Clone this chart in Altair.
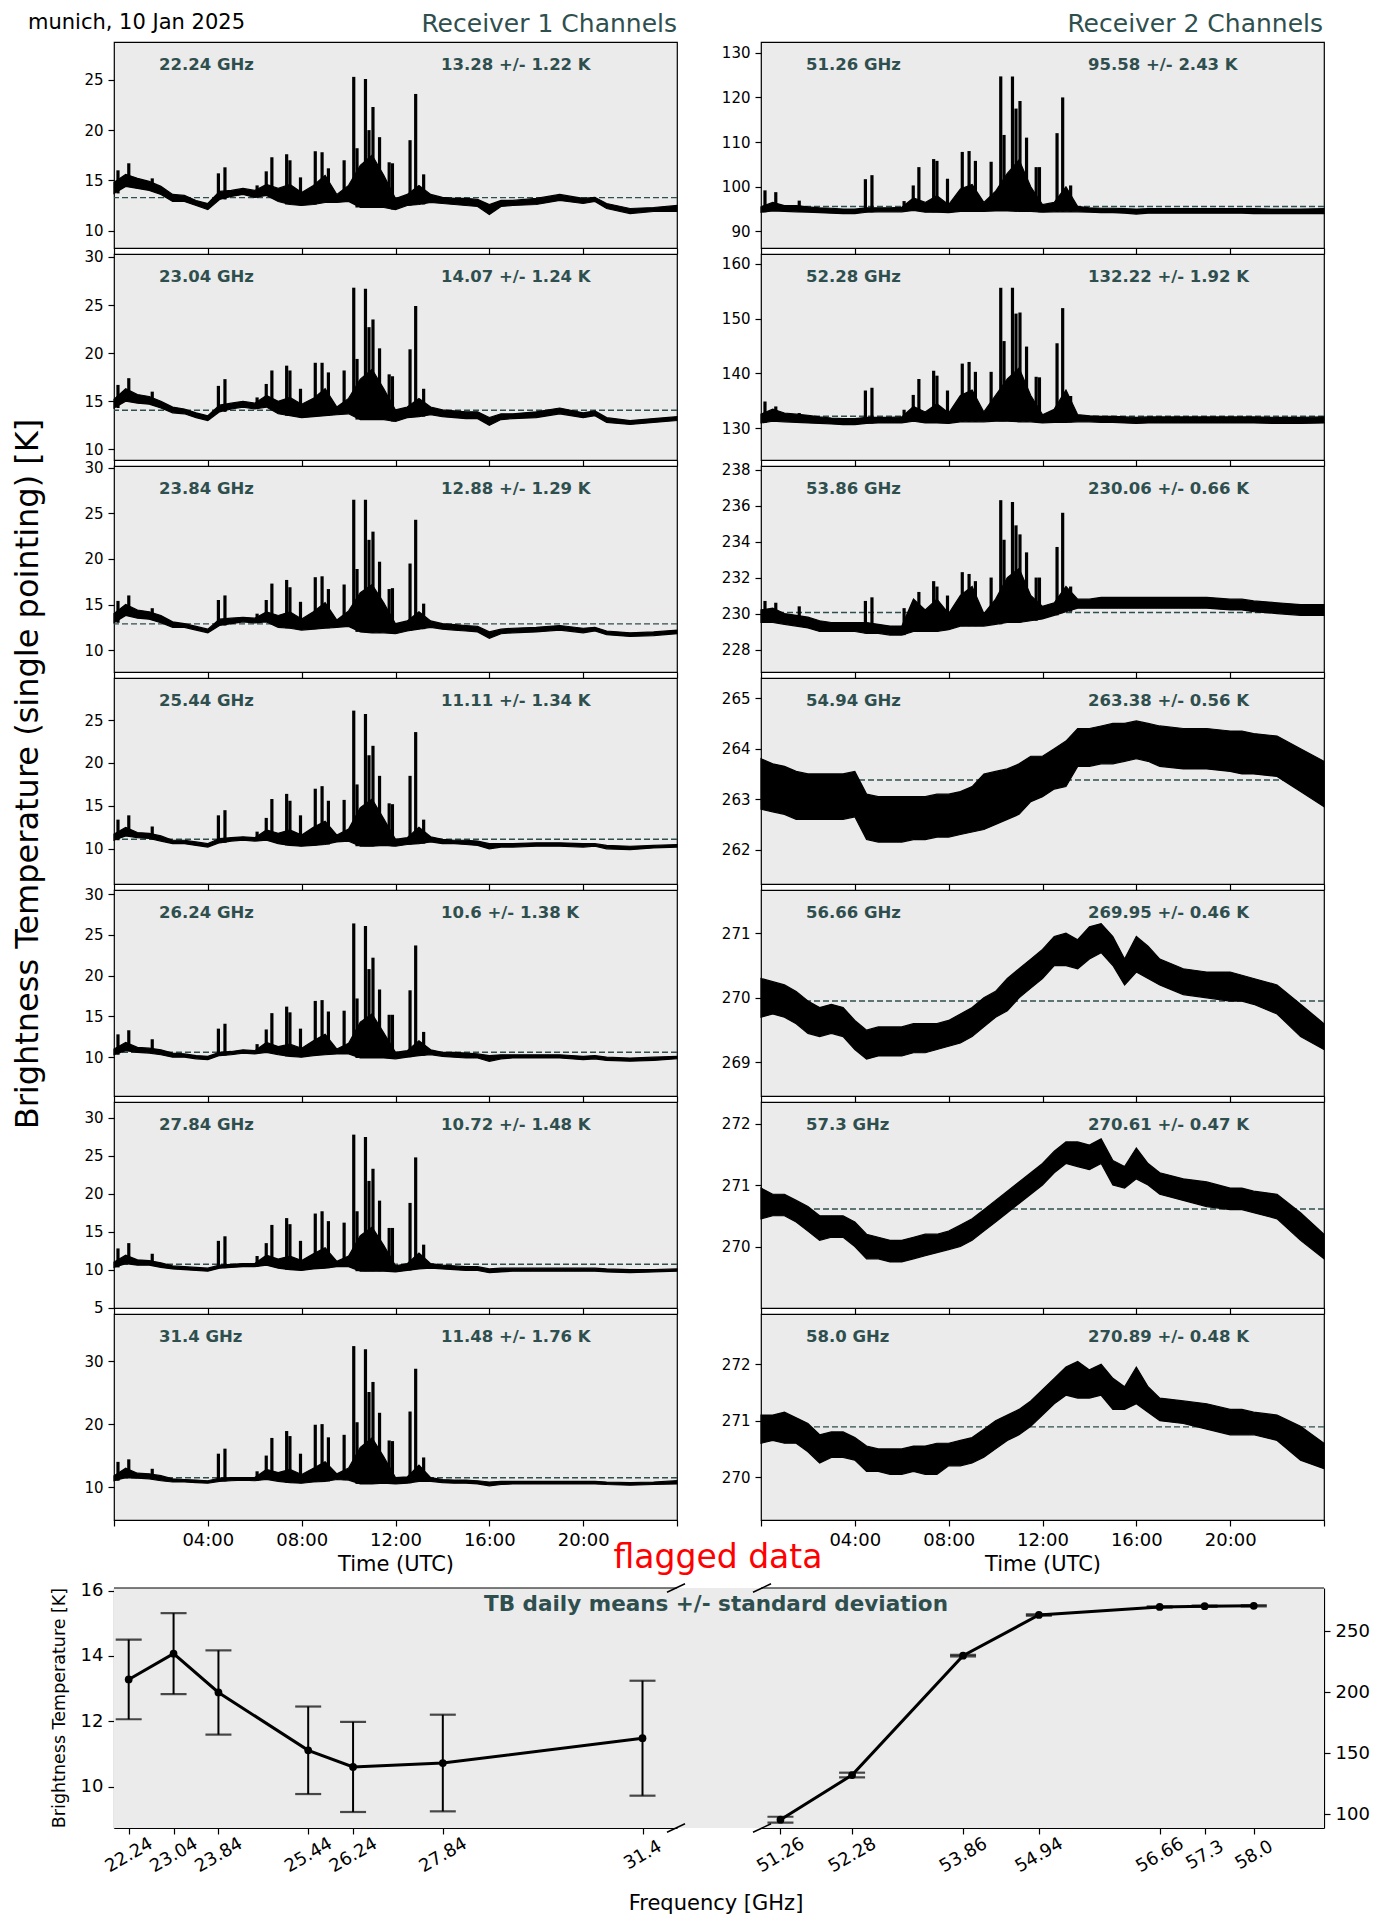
import altair as alt
import pandas as pd

FONT = "DejaVu Sans"
DSG = "#2F4F4F"
BG = "#EBEBEB"
PW, PH = 563, 206          # time-series panel size
BOFF, BH = 62, 302         # bottom row: offset of grey panel, cell height

# ---------------- time grid (hours UTC) ----------------
TIME_H = [0, 0.5, 1, 1.5, 2, 2.5, 3, 3.5, 4, 4.5,
          5, 5.5, 6, 6.5, 7, 7.5, 8, 8.5, 9, 9.5,
          10, 10.5, 11, 11.5, 12, 12.5, 13, 13.5, 14, 14.5,
          15, 15.5, 16, 16.5, 17, 18, 19, 20, 20.5, 21, 22, 23, 24]
SPIKE_H = [0.17, 0.63, 1.63, 4.45, 4.73, 6.1, 6.49, 6.73, 7.36, 7.5, 7.95, 8.58, 8.87,
           9.14, 9.81, 10.22, 10.36, 10.72, 10.87, 11.04, 11.32, 11.73, 11.87, 12.62, 12.86, 13.2]

# ---------------- receiver 1 ----------------
RX1_FREQ = ["22.24", "23.04", "23.84", "25.44", "26.24", "27.84", "31.4"]
RX1_MEAN = [13.28, 14.07, 12.88, 11.11, 10.6, 10.72, 11.48]
RX1_STD = [1.22, 1.24, 1.29, 1.34, 1.38, 1.48, 1.76]
RX1_YDOM = [[8.27, 28.77], [8.9, 30.3], [7.6, 30.2], [5.9, 29.9], [5.24, 30.5], [4.95, 32.1], [4.76, 37.5]]
RX1_YTICKS = [[10, 15, 20, 25], [10, 15, 20, 25, 30], [10, 15, 20, 25, 30], [10, 15, 20, 25],
              [10, 15, 20, 25, 30], [5, 10, 15, 20, 25, 30], [10, 20, 30]]

L1_LO = [13.7, 14.4, 14.2, 14.0, 13.6, 12.9, 12.9, 12.5, 12.1, 13.1,
         13.4, 13.6, 13.3, 13.5, 12.9, 12.6, 12.5, 12.6, 12.8, 12.8,
         12.9, 12.3, 12.3, 12.3, 12.1, 12.5, 12.6, 12.8, 12.7, 12.6,
         12.5, 12.4, 11.6, 12.4, 12.5, 12.6, 13.0, 12.7, 12.9, 12.2, 11.7, 11.9, 11.9]
L1_HI = [14.8, 15.6, 15.2, 14.9, 14.4, 13.6, 13.5, 13.0, 12.7, 13.9,
         14.0, 14.2, 14.0, 14.6, 14.2, 14.6, 13.8, 14.5, 15.5, 13.6,
         14.5, 16.5, 17.5, 15.5, 13.2, 13.6, 14.5, 13.6, 13.3, 13.2,
         13.2, 13.1, 12.6, 13.0, 13.0, 13.2, 13.6, 13.2, 13.3, 12.7, 12.2, 12.3, 12.5]
L1_SPK = [16.0, 16.7, 15.2, 15.7, 16.3, 14.5, 15.9, 17.3, 17.6, 17.0, 15.3, 17.9, 17.8,
          16.2, 17.0, 25.3, 18.2, 25.1, 20.0, 22.3, 19.3, 16.8, 16.7, 19.0, 23.6, 15.6]

L2_LO = [14.3, 15.0, 14.8, 14.7, 14.3, 13.8, 13.7, 13.3, 13.0, 13.9,
         14.2, 14.4, 14.2, 14.4, 13.7, 13.5, 13.3, 13.4, 13.5, 13.6,
         13.7, 13.1, 13.1, 13.1, 12.9, 13.3, 13.4, 13.6, 13.4, 13.3,
         13.2, 13.2, 12.5, 13.1, 13.2, 13.3, 13.7, 13.3, 13.5, 12.8, 12.6, 12.8, 13.0]
L2_HI = [15.2, 16.3, 15.7, 15.5, 15.0, 14.4, 14.2, 13.8, 13.5, 14.6,
         14.8, 15.0, 14.8, 15.6, 15.0, 15.4, 14.7, 15.3, 16.3, 14.4,
         15.3, 17.3, 18.3, 16.3, 14.1, 14.4, 15.3, 14.4, 14.1, 14.0,
         13.9, 13.9, 13.3, 13.7, 13.7, 13.9, 14.3, 13.8, 14.0, 13.3, 13.0, 13.2, 13.4]
L2_SPK = [16.7, 17.4, 16.0, 16.6, 17.3, 15.4, 16.8, 18.2, 18.7, 18.2, 16.3, 19.0, 19.0,
          18.0, 18.2, 26.8, 19.4, 26.7, 22.7, 23.5, 20.5, 17.8, 17.6, 20.4, 24.9, 16.3]

L3_LO = [13.0, 13.8, 13.5, 13.4, 13.0, 12.5, 12.5, 12.2, 11.9, 12.7,
         12.9, 13.1, 13.0, 13.1, 12.5, 12.4, 12.2, 12.3, 12.4, 12.5,
         12.6, 12.0, 11.9, 11.9, 11.8, 12.1, 12.3, 12.5, 12.3, 12.2,
         12.1, 12.0, 11.3, 11.8, 11.9, 12.0, 12.2, 11.9, 12.1, 11.7, 11.5, 11.6, 11.8]
L3_HI = [14.0, 15.0, 14.4, 14.2, 13.8, 13.1, 12.9, 12.6, 12.3, 13.4,
         13.5, 13.6, 13.5, 14.2, 13.8, 14.2, 13.4, 14.2, 15.2, 13.3,
         14.3, 16.3, 17.2, 15.2, 12.9, 13.2, 14.2, 13.2, 12.9, 12.8,
         12.7, 12.6, 12.0, 12.3, 12.4, 12.5, 12.7, 12.4, 12.5, 12.1, 11.9, 12.0, 12.2]
L3_SPK = [15.4, 16.0, 14.6, 15.5, 16.0, 14.0, 15.5, 17.3, 17.7, 16.9, 15.3, 18.0, 18.1,
          16.7, 17.2, 26.5, 18.9, 26.5, 22.1, 23.0, 19.7, 16.7, 16.8, 19.5, 24.3, 15.1]

L4_LO = [11.0, 11.5, 11.3, 11.2, 10.9, 10.6, 10.6, 10.4, 10.2, 10.7,
         10.9, 11.0, 10.9, 11.0, 10.6, 10.4, 10.3, 10.4, 10.5, 10.8,
         10.9, 10.3, 10.3, 10.4, 10.3, 10.5, 10.6, 10.8, 10.6, 10.6,
         10.5, 10.4, 10.0, 10.2, 10.2, 10.3, 10.3, 10.2, 10.3, 10.0, 9.9, 10.1, 10.2]
L4_HI = [11.7, 12.5, 11.9, 11.8, 11.5, 11.0, 11.0, 10.8, 10.6, 11.2,
         11.3, 11.4, 11.3, 12.2, 11.8, 12.2, 11.6, 12.5, 13.2, 11.6,
         12.3, 14.8, 15.8, 13.5, 11.1, 11.3, 12.5, 11.4, 11.1, 11.0,
         11.0, 10.9, 10.6, 10.6, 10.6, 10.7, 10.7, 10.6, 10.6, 10.4, 10.3, 10.4, 10.5]
L4_SPK = [13.4, 13.9, 12.6, 13.9, 14.5, 12.0, 13.6, 15.8, 16.4, 15.6, 13.9, 17.0, 17.3,
          15.6, 15.7, 26.1, 17.5, 25.7, 20.9, 22.0, 18.5, 15.3, 15.2, 18.5, 23.6, 13.4]

L5_LO = [10.3, 10.8, 10.6, 10.5, 10.3, 10.0, 10.0, 9.8, 9.7, 10.2,
         10.3, 10.5, 10.4, 10.6, 10.3, 10.1, 10.0, 10.2, 10.3, 10.4,
         10.4, 9.9, 9.9, 9.9, 9.8, 10.0, 10.2, 10.3, 10.1, 10.0,
         9.9, 9.9, 9.5, 9.8, 9.9, 9.9, 9.9, 9.7, 9.8, 9.6, 9.5, 9.6, 9.8]
L5_HI = [11.0, 11.8, 11.2, 11.1, 10.9, 10.5, 10.4, 10.2, 10.1, 10.6,
         10.7, 10.9, 10.8, 11.8, 11.3, 11.6, 11.1, 12.0, 12.8, 11.0,
         11.7, 14.3, 15.3, 13.0, 10.6, 10.8, 12.0, 10.9, 10.6, 10.6,
         10.5, 10.4, 10.2, 10.3, 10.3, 10.3, 10.3, 10.1, 10.2, 10.0, 9.9, 10.0, 10.1]
L5_SPK = [12.8, 13.3, 12.2, 13.5, 14.1, 11.6, 13.4, 15.4, 16.2, 15.5, 13.5, 16.9, 17.0,
          15.6, 15.7, 26.4, 17.2, 26.1, 20.8, 22.2, 18.3, 15.2, 15.2, 18.2, 23.7, 13.1]

L6_LO = [10.3, 10.8, 10.6, 10.6, 10.3, 10.1, 10.0, 9.9, 9.8, 10.2,
         10.3, 10.4, 10.4, 10.6, 10.2, 10.0, 9.9, 10.1, 10.2, 10.4,
         10.4, 9.8, 9.8, 9.8, 9.7, 9.9, 10.1, 10.2, 10.1, 10.0,
         9.9, 9.9, 9.6, 9.7, 9.8, 9.8, 9.8, 9.8, 9.8, 9.7, 9.6, 9.7, 9.8]
L6_HI = [11.0, 11.9, 11.3, 11.2, 10.9, 10.5, 10.4, 10.3, 10.2, 10.6,
         10.7, 10.8, 10.8, 11.9, 11.4, 11.8, 11.2, 12.1, 12.9, 11.1,
         11.8, 14.5, 15.6, 13.2, 10.5, 10.8, 12.2, 10.8, 10.6, 10.5,
         10.4, 10.4, 10.1, 10.2, 10.2, 10.2, 10.2, 10.2, 10.2, 10.1, 10.0, 10.0, 10.1]
L6_SPK = [12.8, 13.5, 12.1, 13.8, 14.4, 11.8, 13.5, 15.9, 16.8, 16.0, 13.8, 17.4, 17.7,
          16.4, 16.2, 27.8, 17.7, 27.5, 21.7, 23.3, 19.1, 15.5, 15.5, 18.8, 24.8, 13.3]

L7_LO = [11.0, 11.5, 11.4, 11.3, 11.0, 10.8, 10.8, 10.7, 10.6, 10.9,
         11.0, 11.1, 11.0, 11.2, 10.9, 10.7, 10.6, 10.8, 10.9, 11.2,
         11.1, 10.5, 10.5, 10.6, 10.5, 10.6, 10.9, 10.9, 10.7, 10.6,
         10.6, 10.5, 10.2, 10.4, 10.5, 10.5, 10.5, 10.5, 10.5, 10.4, 10.3, 10.4, 10.5]
L7_HI = [11.8, 13.0, 12.2, 12.1, 11.8, 11.3, 11.2, 11.1, 11.0, 11.4,
         11.5, 11.5, 11.5, 12.8, 12.3, 12.8, 12.0, 13.0, 14.0, 12.1,
         13.0, 16.3, 17.8, 14.8, 11.5, 11.6, 13.5, 11.5, 11.2, 11.1,
         11.1, 11.0, 10.8, 10.9, 10.9, 10.9, 10.9, 10.9, 10.9, 10.8, 10.7, 10.8, 11.0]
L7_SPK = [14.0, 14.4, 12.9, 15.3, 16.1, 12.5, 15.0, 17.8, 18.9, 18.1, 15.3, 19.9, 20.0,
          17.9, 18.3, 32.4, 20.3, 31.9, 25.1, 26.7, 21.8, 17.4, 17.3, 22.0, 28.8, 14.7]

# ---------------- receiver 2 ----------------
RX2_FREQ = ["51.26", "52.28", "53.86", "54.94", "56.66", "57.3", "58.0"]
RX2_MEAN = [95.58, 132.22, 230.06, 263.38, 269.95, 270.61, 270.89]
RX2_STD = [2.43, 1.92, 0.66, 0.56, 0.46, 0.47, 0.48]
RX2_YDOM = [[86.3, 132.4], [124.25, 161.75], [226.75, 238.2], [261.32, 265.4],
            [268.48, 271.67], [269.0, 272.35], [269.24, 272.89]]
RX2_YTICKS = [[90, 100, 110, 120, 130], [130, 140, 150, 160], [228, 230, 232, 234, 236, 238],
              [262, 263, 264, 265], [269, 270, 271], [270, 271, 272], [270, 271, 272]]

R1_LO = [94.3, 94.6, 94.5, 94.4, 94.3, 94.2, 94.1, 94.0, 94.0, 94.3,
         94.4, 94.4, 94.4, 94.7, 94.3, 94.3, 94.2, 94.5, 94.5, 94.5,
         94.6, 94.6, 94.5, 94.5, 94.3, 94.4, 94.4, 94.4, 94.3, 94.2,
         94.2, 94.1, 93.9, 94.1, 94.1, 94.1, 94.1, 94.1, 94.1, 94.0, 94.0, 94.0, 94.0]
R1_HI = [95.5, 96.5, 95.8, 95.8, 95.5, 95.3, 95.2, 95.0, 95.0, 95.3,
         95.3, 95.3, 95.4, 97.5, 96.5, 98.0, 96.0, 99.5, 100.5, 96.5,
         99.0, 103.0, 106.0, 100.0, 96.0, 96.5, 100.0, 95.6, 95.3, 95.2,
         95.2, 95.1, 95.0, 95.1, 95.1, 95.1, 95.1, 95.1, 95.1, 95.1, 95.0, 95.0, 95.1]
R1_SPK = [99.2, 98.8, 96.9, 101.7, 102.6, 96.8, 100.3, 104.4, 106.2, 105.8, 101.8, 107.8, 108.0,
          105.8, 105.6, 124.7, 111.6, 124.7, 117.5, 119.2, 111.0, 104.4, 104.4, 112.0, 120.0, 100.3]

R2_LO = [131.0, 131.3, 131.2, 131.1, 131.0, 130.9, 130.8, 130.7, 130.7, 130.9,
         131.0, 131.0, 131.0, 131.3, 131.0, 131.0, 130.9, 131.2, 131.2, 131.2,
         131.3, 131.3, 131.2, 131.2, 131.0, 131.1, 131.1, 131.2, 131.2, 131.1,
         131.1, 131.0, 130.9, 131.0, 131.0, 131.0, 131.0, 131.0, 131.0, 131.0, 130.9, 130.9, 131.0]
R2_HI = [132.6, 133.5, 132.8, 132.6, 132.4, 132.1, 131.9, 131.8, 131.8, 132.0,
         132.0, 132.0, 132.1, 134.0, 133.0, 134.5, 132.8, 136.0, 137.0, 133.0,
         136.0, 139.0, 141.0, 136.0, 132.5, 133.5, 137.0, 132.5, 132.3, 132.2,
         132.2, 132.1, 132.0, 132.1, 132.1, 132.1, 132.1, 132.1, 132.1, 132.1, 132.0, 132.0, 132.1]
R2_SPK = [134.9, 134.0, 132.8, 136.9, 137.4, 133.4, 136.1, 139.0, 140.5, 139.6, 136.9, 141.8, 142.1,
          140.3, 140.3, 155.6, 145.9, 155.6, 150.9, 151.1, 144.9, 139.4, 139.3, 145.5, 151.9, 135.9]

R3_LO = [229.5, 229.5, 229.4, 229.3, 229.2, 229.0, 229.0, 229.0, 229.0, 228.9,
         228.9, 228.8, 228.8, 229.0, 229.0, 229.0, 229.1, 229.3, 229.3, 229.3,
         229.4, 229.5, 229.5, 229.6, 229.7, 229.9, 230.1, 230.3, 230.3, 230.3,
         230.3, 230.3, 230.3, 230.3, 230.3, 230.3, 230.3, 230.2, 230.2, 230.1, 230.0, 229.9, 229.9]
R3_HI = [230.2, 230.3, 230.0, 229.9, 229.8, 229.6, 229.5, 229.5, 229.5, 229.5,
         229.4, 229.3, 229.3, 230.8, 230.2, 230.8, 230.0, 231.0, 231.5, 230.0,
         230.8, 232.0, 232.5, 231.0, 230.4, 230.6, 231.5, 230.8, 230.8, 230.9,
         230.9, 230.9, 230.9, 230.9, 230.9, 230.9, 230.9, 230.8, 230.8, 230.7, 230.6, 230.5, 230.5]
R3_SPK = [230.7, 230.6, 230.4, 230.7, 230.9, 230.3, 230.5, 231.2, 231.8, 231.5, 231.0, 232.3, 232.2,
          231.8, 232.0, 236.3, 234.1, 236.2, 234.9, 234.4, 233.4, 232.0, 232.0, 233.7, 235.6, 231.5]

R4_LO = [262.8, 262.75, 262.7, 262.6, 262.6, 262.6, 262.6, 262.6, 262.65, 262.2,
         262.15, 262.15, 262.15, 262.2, 262.2, 262.25, 262.25, 262.3, 262.35, 262.4,
         262.5, 262.6, 262.7, 262.95, 263.05, 263.2, 263.25, 263.65, 263.65, 263.7,
         263.7, 263.75, 263.8, 263.75, 263.65, 263.6, 263.6, 263.55, 263.5, 263.5, 263.45, 263.15, 262.85]
R4_HI = [263.8, 263.7, 263.65, 263.55, 263.5, 263.5, 263.5, 263.5, 263.55, 263.1,
         263.05, 263.05, 263.05, 263.05, 263.05, 263.1, 263.1, 263.15, 263.25, 263.5,
         263.55, 263.6, 263.7, 263.85, 263.85, 264.0, 264.15, 264.4, 264.4, 264.45,
         264.5, 264.5, 264.55, 264.5, 264.45, 264.4, 264.4, 264.35, 264.35, 264.3, 264.25, 264.0, 263.75]

R5_LO = [269.7, 269.75, 269.7, 269.6, 269.45, 269.4, 269.45, 269.4, 269.2, 269.05,
         269.1, 269.1, 269.1, 269.15, 269.15, 269.2, 269.25, 269.3, 269.4, 269.55,
         269.7, 269.8, 270.0, 270.15, 270.3, 270.5, 270.5, 270.45, 270.6, 270.7,
         270.5, 270.2, 270.4, 270.3, 270.2, 270.05, 270.0, 269.95, 269.95, 269.9, 269.75, 269.4, 269.2]
R5_HI = [270.3, 270.25, 270.2, 270.1, 269.95, 269.85, 269.9, 269.85, 269.65, 269.5,
         269.55, 269.55, 269.55, 269.6, 269.6, 269.6, 269.65, 269.75, 269.85, 270.0,
         270.1, 270.3, 270.45, 270.6, 270.75, 270.95, 271.0, 270.9, 271.1, 271.15,
         270.95, 270.6, 270.95, 270.8, 270.6, 270.45, 270.4, 270.4, 270.35, 270.3, 270.2, 269.9, 269.6]

R6_LO = [270.45, 270.5, 270.5, 270.4, 270.25, 270.1, 270.15, 270.15, 270.0, 269.8,
         269.8, 269.75, 269.75, 269.8, 269.85, 269.9, 269.95, 270.0, 270.1, 270.25,
         270.4, 270.55, 270.7, 270.85, 271.0, 271.2, 271.35, 271.3, 271.25, 271.35,
         271.0, 270.95, 271.1, 271.0, 270.85, 270.75, 270.65, 270.6, 270.6, 270.55, 270.45, 270.1, 269.8]
R6_HI = [270.95, 270.85, 270.85, 270.75, 270.65, 270.5, 270.5, 270.5, 270.4, 270.2,
         270.15, 270.1, 270.1, 270.15, 270.2, 270.2, 270.25, 270.35, 270.45, 270.6,
         270.75, 270.9, 271.05, 271.2, 271.35, 271.55, 271.7, 271.7, 271.65, 271.75,
         271.4, 271.3, 271.6, 271.35, 271.2, 271.1, 271.05, 270.95, 270.95, 270.9, 270.85, 270.55, 270.2]

R7_LO = [270.6, 270.65, 270.6, 270.6, 270.45, 270.25, 270.35, 270.35, 270.3, 270.1,
         270.1, 270.05, 270.05, 270.1, 270.05, 270.05, 270.2, 270.2, 270.25, 270.35,
         270.5, 270.65, 270.75, 270.9, 271.1, 271.3, 271.45, 271.4, 271.4, 271.45,
         271.2, 271.2, 271.3, 271.15, 271.0, 270.95, 270.85, 270.75, 270.75, 270.75, 270.65, 270.3, 270.15]
R7_HI = [271.1, 271.1, 271.15, 271.05, 270.95, 270.75, 270.8, 270.8, 270.7, 270.55,
         270.5, 270.5, 270.5, 270.55, 270.55, 270.6, 270.6, 270.65, 270.7, 270.85,
         271.0, 271.1, 271.2, 271.35, 271.55, 271.75, 271.95, 272.05, 271.9, 272.0,
         271.75, 271.6, 271.95, 271.6, 271.4, 271.35, 271.3, 271.2, 271.2, 271.15, 271.1, 270.9, 270.6]

RX1_BANDS = [(L1_LO, L1_HI, L1_SPK), (L2_LO, L2_HI, L2_SPK), (L3_LO, L3_HI, L3_SPK),
             (L4_LO, L4_HI, L4_SPK), (L5_LO, L5_HI, L5_SPK), (L6_LO, L6_HI, L6_SPK),
             (L7_LO, L7_HI, L7_SPK)]
RX2_BANDS = [(R1_LO, R1_HI, R1_SPK), (R2_LO, R2_HI, R2_SPK), (R3_LO, R3_HI, R3_SPK),
             (R4_LO, R4_HI, None), (R5_LO, R5_HI, None), (R6_LO, R6_HI, None),
             (R7_LO, R7_HI, None)]

# bottom summary panel limits
BL_XLIM = [21.978, 32.015]
BR_XLIM = [50.983, 59.0]
BL_YLIM = [8.73, 16.08]
BR_YLIM = [88.8, 285.5]
BL_YTICKS = [10, 12, 14, 16]
BR_YTICKS = [100, 150, 200, 250]

XTICKS = [0, 4, 8, 12, 16, 20, 24]
XLABEL = "(datum.value == 0 || datum.value == 24) ? '' : ((datum.value < 10 ? '0' : '') + datum.value + ':00')"
FREQ_EXPR = "datum.value == floor(datum.value) ? format(datum.value, '.1f') : format(datum.value, '.2~f')"


def txt(s, x, y, size, color="black", weight="normal", align="left", angle=0):
    return alt.Chart(pd.DataFrame({"s": [s]})).mark_text(
        font=FONT, fontSize=size, color=color, fontWeight=weight, align=align,
        baseline="middle", angle=angle).encode(x=alt.value(x), y=alt.value(y), text="s:N")


def seg(x1, y1, x2, y2, w=1.5, color="black"):
    return alt.Chart(pd.DataFrame({"a": [0]})).mark_rule(color=color, strokeWidth=w).encode(
        x=alt.value(x1), x2=alt.value(x2), y=alt.value(y1), y2=alt.value(y2))


def rect(x1, y1, x2, y2, color):
    return alt.Chart(pd.DataFrame({"a": [0]})).mark_rect(color=color, opacity=1).encode(
        x=alt.value(x1), x2=alt.value(x2), y=alt.value(y1), y2=alt.value(y2))


def ts_panel(freq, mean, std, lo, hi, spk, ydom, yticks, bottom, extra):
    xs = alt.Scale(domain=[0, 24], nice=False, zero=False)
    ys = alt.Scale(domain=ydom, nice=False, zero=False)
    if bottom:
        xax = alt.Axis(values=XTICKS, labelExpr=XLABEL, title="Time (UTC)", tickSize=6,
                       labelPadding=5, labelFontSize=18, titleFontSize=21, titlePadding=4,
                       domain=False, grid=False, labelAngle=0, labelOverlap=False)
    else:
        xax = alt.Axis(values=XTICKS, labels=False, title=None, tickSize=6, domain=False, grid=False)
    yax = alt.Axis(values=yticks, title=None, tickSize=6, labelPadding=5, labelFontSize=15,
                   domain=False, grid=False, labelOverlap=False)
    layers = list(extra[0])
    layers.append(alt.Chart(pd.DataFrame({"m": [mean]})).mark_rule(
        color=DSG, strokeDash=[6, 3], strokeWidth=1.4).encode(y=alt.Y("m:Q", scale=ys, axis=yax)))
    band = pd.DataFrame({"t": TIME_H, "lo": lo, "hi": hi})
    layers.append(alt.Chart(band).mark_area(color="black", opacity=1, stroke="black", strokeWidth=1.2).encode(
        x=alt.X("t:Q", scale=xs, axis=xax), y=alt.Y("lo:Q", scale=ys, axis=yax), y2="hi:Q"))
    if spk is not None:
        base = [lo[min(range(len(TIME_H)), key=lambda i: abs(TIME_H[i] - t))] for t in SPIKE_H]
        sdf = pd.DataFrame({"t": SPIKE_H, "b": base, "p": spk})
        layers.append(alt.Chart(sdf).mark_rule(color="black", strokeWidth=3.2).encode(
            x=alt.X("t:Q", scale=xs, axis=xax), y=alt.Y("b:Q", scale=ys, axis=yax), y2="p:Q"))
    layers.append(txt(f"{freq} GHz", 45, 23, 16.5, DSG, "bold"))
    layers.append(txt(f"{mean} +/- {std} K", 327, 23, 16.5, DSG, "bold"))
    layers += extra[1]
    return alt.layer(*layers).properties(
        width=PW, height=PH, view=alt.ViewBackground(fill=BG, stroke="black", strokeWidth=1.2))


def summary(freqs, means, stds, xlim, ylim, yticks, orient, pre, post):
    xs = alt.Scale(domain=xlim, range=[0, PW], nice=False, zero=False)
    ys = alt.Scale(domain=ylim, range=[BH, BOFF], nice=False, zero=False)
    xax = alt.Axis(values=[float(f) for f in freqs], labelExpr=FREQ_EXPR, labelAngle=330,
                   labelAlign="center", labelBaseline="middle", labelPadding=21, labelFontSize=18,
                   tickSize=6, domain=True, domainColor="black", domainWidth=1.2, grid=False,
                   title=None, orient="bottom", labelOverlap=False, labelBound=False)
    yax = alt.Axis(values=yticks, orient=orient, tickSize=6, labelPadding=5, labelFontSize=18,
                   domain=True, domainColor="black", domainWidth=1.2, grid=False, title=None,
                   labelOverlap=False)
    df = pd.DataFrame({"f": [float(f) for f in freqs], "m": means, "s": stds})
    df["lo"] = df["m"] - df["s"]
    df["hi"] = df["m"] + df["s"]
    X = alt.X("f:Q", scale=xs, axis=xax)
    layers = list(pre)
    layers.append(alt.Chart(df).mark_rule(color="black", strokeWidth=2).encode(
        x=X, y=alt.Y("lo:Q", scale=ys, axis=yax), y2="hi:Q"))
    for c in ["lo", "hi"]:
        layers.append(alt.Chart(df).mark_tick(orient="horizontal", size=26, thickness=2.2, color="black").encode(
            x=X, y=alt.Y(f"{c}:Q", scale=ys, axis=yax)))
    layers.append(alt.Chart(df).mark_line(color="black", strokeWidth=3).encode(
        x=X, y=alt.Y("m:Q", scale=ys, axis=yax)))
    layers.append(alt.Chart(df).mark_circle(size=60, color="black", opacity=1).encode(
        x=X, y=alt.Y("m:Q", scale=ys, axis=yax)))
    layers += post
    return alt.layer(*layers).properties(width=PW, height=BH)


cells = []
for i in range(7):
    lo1, hi1, sp1 = RX1_BANDS[i]
    lo2, hi2, sp2 = RX2_BANDS[i]
    ex1 = ([], [])
    ex2 = ([], [])
    if i == 0:
        ex1 = ([rect(-105, -33, -104, -32, "white")],
               [txt("munich, 10 Jan 2025", -86, -19, 21),
                txt("Receiver 1 Channels", PW, -18, 25, DSG, align="right")])
        ex2 = ([], [txt("Receiver 2 Channels", PW - 1, -18, 25, DSG, align="right")])
    if i == 3:
        ex1 = ([], [txt("Brightness Temperature (single pointing) [K]", -86, 96, 32,
                        align="center", angle=270)])
    cells.append(ts_panel(RX1_FREQ[i], RX1_MEAN[i], RX1_STD[i], lo1, hi1, sp1,
                          RX1_YDOM[i], RX1_YTICKS[i], i == 6, ex1))
    cells.append(ts_panel(RX2_FREQ[i], RX2_MEAN[i], RX2_STD[i], lo2, hi2, sp2,
                          RX2_YDOM[i], RX2_YTICKS[i], i == 6, ex2))

bl = summary(RX1_FREQ, RX1_MEAN, RX1_STD, BL_XLIM, BL_YLIM, BL_YTICKS, "left",
             [rect(0, BOFF, PW, BH, BG), seg(0, BOFF, PW, BOFF, 1.2)],
             [txt("Brightness Temperature [K]", -54, BOFF + 120, 17.5, align="center", angle=270)])
br = summary(RX2_FREQ, RX2_MEAN, RX2_STD, BR_XLIM, BR_YLIM, BR_YTICKS, "right",
             [rect(-84, BOFF, PW, BH, BG), seg(0, BOFF, PW, BOFF, 1.2)],
             [seg(-94, BOFF + 4.2, -76, BOFF - 4.2), seg(-94, BH + 4.2, -76, BH - 4.2),
              seg(-8, BOFF + 4.2, 10, BOFF - 4.2), seg(-8, BH + 4.2, 10, BH - 4.2),
              txt("TB daily means +/- standard deviation", -45, BOFF + 17, 21.5, DSG, "bold", "center"),
              txt("flagged data", -43, BOFF - 30, 33, "red", align="center"),
              txt("Frequency [GHz]", -45, BOFF + 316, 21, align="center")])
cells += [bl, br]

chart = alt.concat(*cells, columns=2, spacing={"row": 6, "column": 84}, bounds="flush",
                   align="each").properties(padding=0).configure(font=FONT).configure_view(
    strokeWidth=0).configure_axis(labelColor="black", tickColor="black", titleColor="black",
                                  domainColor="black", labelFont=FONT, titleFont=FONT,
                                  titleFontWeight="normal", tickWidth=1.2, grid=False)

chart.save("out.html", embed_options={"renderer": "svg", "actions": False})
